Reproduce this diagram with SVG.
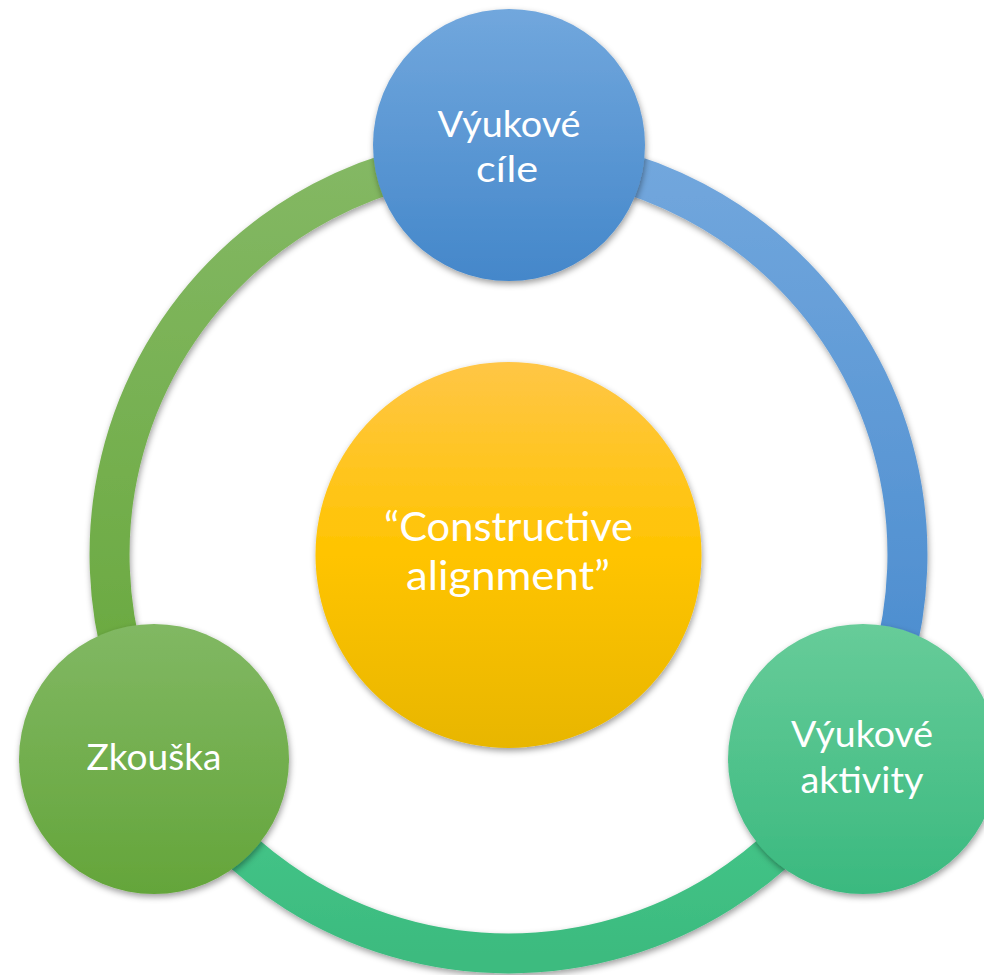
<svg xmlns="http://www.w3.org/2000/svg" width="984" height="975" viewBox="0 0 984 975">
<defs>
<filter id="sh" x="-20%" y="-20%" width="140%" height="140%">
<feDropShadow dx="1" dy="3" stdDeviation="3" flood-color="#000" flood-opacity="0.38"/>
</filter>
<linearGradient id="gArcBlue" x1="0" y1="0" x2="0" y2="1"><stop offset="0" stop-color="#72a7dd"/><stop offset="1" stop-color="#4689cd"/></linearGradient>
<linearGradient id="gArcTeal" x1="0" y1="0" x2="0" y2="1"><stop offset="0" stop-color="#48c98c"/><stop offset="1" stop-color="#3cbb7f"/></linearGradient>
<linearGradient id="gArcGreen" x1="0" y1="0" x2="0" y2="1"><stop offset="0" stop-color="#84b864"/><stop offset="1" stop-color="#66a73a"/></linearGradient>
<linearGradient id="gBlue" x1="0" y1="0" x2="0" y2="1"><stop offset="0" stop-color="#71a7dd"/><stop offset="1" stop-color="#4487ca"/></linearGradient>
<linearGradient id="gYellow" x1="0" y1="0" x2="0" y2="1"><stop offset="0" stop-color="#ffc646"/><stop offset="0.5" stop-color="#ffc400"/><stop offset="1" stop-color="#e8b600"/></linearGradient>
<linearGradient id="gGreen" x1="0" y1="0" x2="0" y2="1"><stop offset="0" stop-color="#81b863"/><stop offset="1" stop-color="#64a53a"/></linearGradient>
<linearGradient id="gTeal" x1="0" y1="0" x2="0" y2="1"><stop offset="0" stop-color="#67cc99"/><stop offset="1" stop-color="#3ab97f"/></linearGradient>
</defs>
<style>
.arc{fill:none;stroke-width:40;filter:url(#sh)}
.node{filter:url(#sh)}
.lbl{font-family:Lato,"Open Sans","Liberation Sans",sans-serif;fill:#ffffff;text-anchor:middle;font-size:37px}
.big{font-size:40px}
</style>
<g id="connectors">
<path class="arc" stroke="url(#gArcBlue)" d="M508.5,155.5 A399,399 0 0 1 854,754"/>
<path class="arc" stroke="url(#gArcTeal)" d="M854,754 A399,399 0 0 1 163,754"/>
<path class="arc" stroke="url(#gArcGreen)" d="M163,754 A399,399 0 0 1 508.5,155.5"/>
</g>
<g id="node-top">
<circle class="node" cx="509" cy="145" r="136" fill="url(#gBlue)"/>
<text class="lbl" x="509" y="137" textLength="143" lengthAdjust="spacingAndGlyphs">Výukové</text>
<text class="lbl" x="507" y="182" textLength="62" lengthAdjust="spacingAndGlyphs">cíle</text>
</g>
<g id="node-right">
<circle class="node" cx="863" cy="759" r="135" fill="url(#gTeal)"/>
<text class="lbl" x="862" y="747" textLength="142" lengthAdjust="spacingAndGlyphs">Výukové</text>
<text class="lbl" x="862" y="793" textLength="123" lengthAdjust="spacingAndGlyphs">aktivity</text>
</g>
<g id="node-left">
<circle class="node" cx="154" cy="759" r="135" fill="url(#gGreen)"/>
<text class="lbl" x="154" y="770" textLength="135" lengthAdjust="spacingAndGlyphs">Zkouška</text>
</g>
<g id="node-center">
<circle class="node" cx="508.5" cy="555" r="193" fill="url(#gYellow)"/>
<text class="lbl big" x="508.5" y="541" textLength="249" lengthAdjust="spacingAndGlyphs">“Constructive</text>
<text class="lbl big" x="508" y="590" textLength="204" lengthAdjust="spacingAndGlyphs">alignment”</text>
</g>
</svg>
